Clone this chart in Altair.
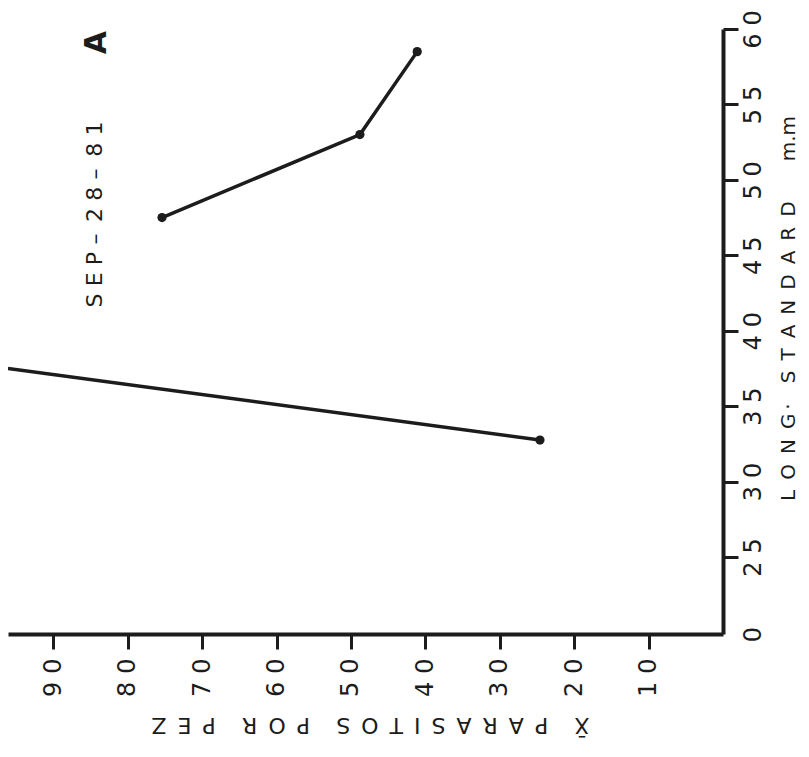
import altair as alt
import pandas as pd

# Data read from the (rotated) reference chart
length_mm = [32.75, 47.5, 53.0, 58.5]          # LONG. STANDARD (mm)
parasitos = [24.6, 75.4, 48.8, 41.1]           # mean parasites per fish
groups = ["a", "b", "b", "b"]

# first segment leaves the plotting area at the top-left edge
seg_len = [32.75, 37.5]
seg_par = [24.6, 96.1]

len_ticks = [0, 25, 30, 35, 40, 45, 50, 55, 60]
par_ticks = [10, 20, 30, 40, 50, 60, 70, 80, 90]

INK = "#1c1c1c"
FONT = "DejaVu Sans"
EN = "\u2002"
TH = "\u2004"
THIN = "\u2009"

pts = pd.DataFrame({"len": length_mm, "par": parasitos, "g": groups})
seg = pd.DataFrame({"len": seg_len, "par": seg_par, "g": ["a", "a"]})
lines = pd.concat([seg, pts[pts.g == "b"]], ignore_index=True)
lines["ord"] = range(len(lines))

xscale = alt.Scale(domain=[0, 96.1], reverse=True, nice=False, zero=False)
yscale = alt.Scale(domain=[0, 25, 60], range=[605, 528, 0], nice=False, zero=False)

digit_expr = ("length(datum.label) > 1 ? substring(datum.label,0,1) + '" + TH +
              "' + substring(datum.label,1,2) : datum.label")

word_gap = EN + EN + THIN
x_title = ("X\u0304" + word_gap + EN.join("PARASITOS") + word_gap +
           EN.join("POR") + word_gap + EN.join("PEZ"))
y_title = EN.join("LONG") + THIN + "·" + EN + EN + EN.join("STANDARD") + EN * 4 + "m.m"

xaxis = alt.Axis(
    values=par_ticks, orient="bottom", grid=False,
    labelAngle=270, labelAlign="right", labelBaseline="middle",
    labelPadding=9, labelFontSize=24, labelFont=FONT, labelColor=INK,
    labelOverlap=False, labelFlush=False, labelExpr=digit_expr,
    tickSize=15, tickWidth=3, tickColor=INK,
    domainWidth=4, domainColor=INK,
    title=x_title,
    titleAngle=180, titleX=362, titleY=90, titleAlign="center", titleBaseline="middle",
    titleFontSize=22, titleFont=FONT, titleFontWeight="normal", titleColor=INK,
)

yaxis = alt.Axis(
    values=len_ticks, orient="right", grid=False,
    labelAngle=270, labelAlign="center", labelBaseline="top",
    labelPadding=3, labelFontSize=24, labelFont=FONT, labelColor=INK,
    labelOverlap=False, labelFlush=False, labelExpr=digit_expr,
    tickSize=15, tickWidth=3, tickColor=INK,
    tickOpacity={"condition": {"test": "datum.value == 0", "value": 0}, "value": 1},
    domainWidth=4, domainColor=INK,
    title=y_title,
    titleAngle=270, titleX=65, titleY=279, titleAlign="center", titleBaseline="middle",
    titleFontSize=20, titleFont=FONT, titleFontWeight="normal", titleColor=INK,
)

base_x = alt.X("par:Q", scale=xscale, axis=xaxis)
base_y = alt.Y("len:Q", scale=yscale, axis=yaxis)

line_layer = alt.Chart(lines).mark_line(color=INK, strokeWidth=3.5, clip=True).encode(
    x=base_x, y=base_y, detail="g:N", order="ord:Q"
)
point_layer = alt.Chart(pts).mark_point(filled=True, color=INK, size=85, opacity=1).encode(
    x=alt.X("par:Q", scale=xscale), y=alt.Y("len:Q", scale=yscale)
)

sep_txt = (TH.join("SEP") + TH + "–" + TH + THIN + TH.join("28") + TH + "–" + TH + THIN + TH.join("81"))
sep_df = pd.DataFrame({"par": [84.4], "len": [47.7], "txt": [sep_txt]})
a_df = pd.DataFrame({"par": [84.2], "len": [59.1], "txt": ["A"]})

sep_layer = alt.Chart(sep_df).mark_text(
    angle=270, align="center", baseline="middle", fontSize=22, font=FONT, color=INK
).encode(x=alt.X("par:Q", scale=xscale), y=alt.Y("len:Q", scale=yscale), text="txt:N")
a_layer = alt.Chart(a_df).mark_text(
    angle=270, align="center", baseline="middle", fontSize=30, font=FONT, color=INK, fontWeight="bold"
).encode(x=alt.X("par:Q", scale=xscale), y=alt.Y("len:Q", scale=yscale), text="txt:N")

chart = alt.layer(line_layer, point_layer, sep_layer, a_layer).properties(
    width=715, height=605,
    autosize=alt.AutoSizeParams(type="none"),
    padding={"left": 0, "top": 21, "right": 78, "bottom": 105},
    background="white",
).configure_view(stroke=None)

chart.save("out.html", embed_options={"renderer": "svg", "actions": False})
